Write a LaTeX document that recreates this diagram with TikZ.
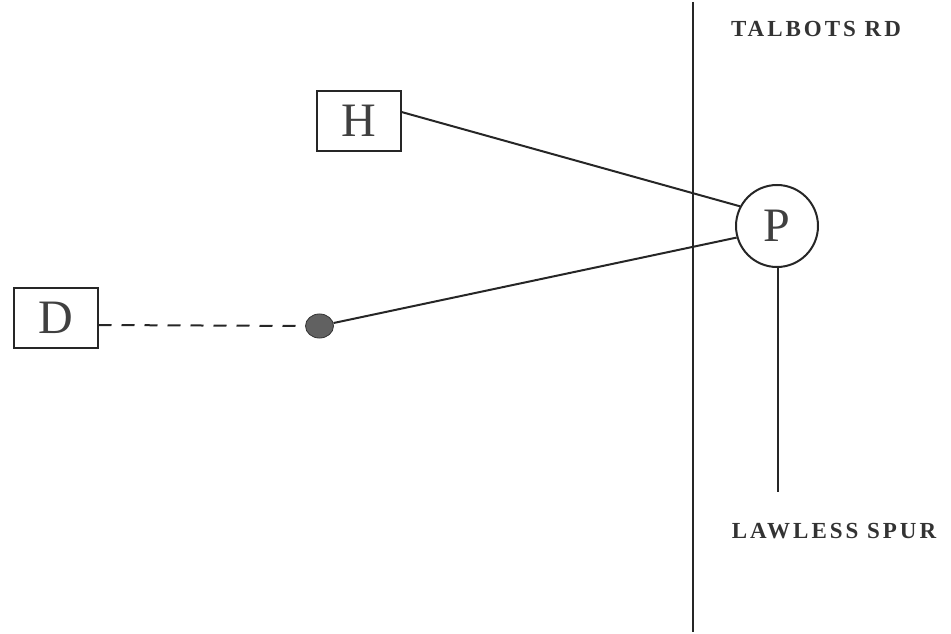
\documentclass[tikz,border=0pt]{standalone}
\usepackage{fontspec}
\setmainfont{Liberation Serif}
\usetikzlibrary{calc}
\begin{document}
\begin{tikzpicture}[x=1pt,y=-1pt,
  wire/.style={line width=2pt,draw=black!85},
  letterbox/.style={draw=black!85,line width=2pt,minimum width=84pt,minimum height=60pt,
    inner sep=0pt,font=\fontsize{48}{48}\selectfont,text=black!75},
  junction/.style={circle,draw=black!85,line width=2pt,minimum size=82pt,inner sep=0pt,
    font=\fontsize{48}{48}\selectfont,text=black!75},
  roadlabel/.style={font=\fontsize{23}{23}\selectfont\bfseries\addfontfeatures{LetterSpace=13},text=black!80}]
\useasboundingbox (0,0) rectangle (951,634);

% main road running top to bottom
\coordinate (roadtop) at (693,2);
\coordinate (roadbot) at (693,632);
\draw[wire] (roadtop) -- (roadbot);

% labelled points
\node[letterbox] (H) at (358.5,121) {H};
\node[letterbox] (D) at (55.5,318) {D};
\node[junction] (P) at (777,226) {P};
\node[circle,fill=black!62,draw=black!80,line width=0.8pt,minimum width=28pt,inner sep=0pt,yscale=0.86] (dot) at (319.5,326) {};

% spur leaving the junction
\coordinate (spurend) at (778,492);
\draw[wire] (P.south) ++(1,0) -- (spurend);

% connections
\draw[wire] (H.east |- 0,112) -- (P.152);
\draw[wire] (dot) -- (P.196);
\draw[wire,dash pattern=on 13pt off 10pt] (D.east |- 0,325) -- (dot.west);

% road names
\node[roadlabel] (talbots) at (816,29) {TALBOTS RD};
\node[roadlabel] (lawless) at (834,531) {LAWLESS SPUR};
\end{tikzpicture}
\end{document}
